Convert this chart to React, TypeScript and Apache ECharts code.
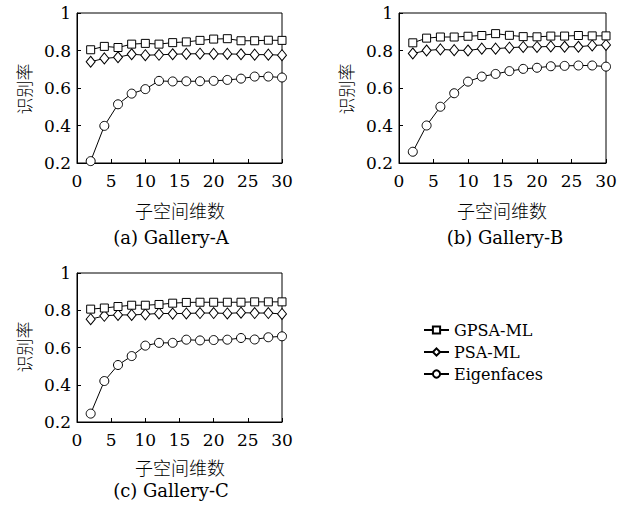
import React, { useEffect, useRef } from "react";
import * as echarts from "echarts";

const dims = [2, 4, 6, 8, 10, 12, 14, 16, 18, 20, 22, 24, 26, 28, 30];
const seriesNames = ["GPSA-ML", "PSA-ML", "Eigenfaces"];
const captions = ["(a) Gallery-A", "(b) Gallery-B", "(c) Gallery-C"];
const xAxisTitle = "子空间维数";
const yAxisTitle = "识别率";

const gpsaA = [0.804, 0.822, 0.816, 0.834, 0.838, 0.834, 0.842, 0.846, 0.854, 0.861, 0.863, 0.852, 0.852, 0.855, 0.854];
const psaA = [0.74, 0.758, 0.764, 0.78, 0.775, 0.777, 0.78, 0.782, 0.783, 0.782, 0.782, 0.78, 0.778, 0.778, 0.775];
const eigA = [0.21, 0.398, 0.513, 0.57, 0.594, 0.638, 0.635, 0.636, 0.636, 0.638, 0.643, 0.65, 0.661, 0.661, 0.656];

const gpsaB = [0.841, 0.866, 0.872, 0.872, 0.876, 0.88, 0.89, 0.881, 0.874, 0.873, 0.877, 0.877, 0.88, 0.878, 0.878];
const psaB = [0.784, 0.8, 0.806, 0.802, 0.8, 0.81, 0.81, 0.815, 0.819, 0.819, 0.822, 0.82, 0.82, 0.827, 0.83];
const eigB = [0.26, 0.4, 0.5, 0.572, 0.634, 0.661, 0.675, 0.69, 0.702, 0.708, 0.716, 0.718, 0.72, 0.72, 0.714];

const gpsaC = [0.806, 0.812, 0.82, 0.827, 0.827, 0.831, 0.838, 0.842, 0.843, 0.843, 0.843, 0.843, 0.845, 0.845, 0.845];
const psaC = [0.752, 0.77, 0.775, 0.775, 0.778, 0.783, 0.782, 0.783, 0.785, 0.785, 0.783, 0.787, 0.785, 0.785, 0.78];
const eigC = [0.245, 0.42, 0.506, 0.554, 0.61, 0.625, 0.625, 0.642, 0.638, 0.64, 0.642, 0.651, 0.643, 0.655, 0.66];

const panels = [
  [gpsaA, psaA, eigA],
  [gpsaB, psaB, eigB],
  [gpsaC, psaC, eigC],
];

const symbols = ["rect", "diamond", "circle"];
const symbolSizes: any[] = [8, [9, 11], 9];

const gridBoxes = [
  { left: 77, top: 13, width: 205, height: 150 },
  { left: 399, top: 13, width: 207, height: 150 },
  { left: 77, top: 273, width: 205, height: 149 },
];

const serif = "DejaVu Serif";
const cjk = "Noto Sans CJK SC";

export default function App() {
  const ref = useRef<HTMLDivElement>(null);
  useEffect(() => {
    if (!ref.current) return;
    const chart = echarts.init(ref.current, undefined, { renderer: "svg" });
    const grids = gridBoxes.map((g) => ({
      ...g,
      show: true,
      borderColor: "#000",
      borderWidth: 1,
      backgroundColor: "transparent",
    }));
    const xAxes = gridBoxes.map((_, i) => ({
      type: "value",
      gridIndex: i,
      min: 0,
      max: 30,
      interval: 5,
      axisLine: { show: true, lineStyle: { color: "#000", width: 1 } },
      axisTick: { show: true, inside: true, length: 4, lineStyle: { color: "#000" } },
      axisLabel: { color: "#000", fontFamily: serif, fontSize: 17, margin: 9 },
      splitLine: { show: false },
    }));
    const yAxes = gridBoxes.map((_, i) => ({
      type: "value",
      gridIndex: i,
      min: 0.2,
      max: 1,
      interval: 0.2,
      axisLine: { show: true, lineStyle: { color: "#000", width: 1 } },
      axisTick: { show: true, inside: true, length: 4, lineStyle: { color: "#000" } },
      axisLabel: {
        color: "#000",
        fontFamily: serif,
        fontSize: 17,
        margin: 6,
        formatter: (v: number) => String(Math.round(v * 10) / 10),
      },
      splitLine: { show: false },
    }));
    const series: any[] = [];
    panels.forEach((p, pi) => {
      p.forEach((vals, si) => {
        series.push({
          name: seriesNames[si],
          type: "line",
          xAxisIndex: pi,
          yAxisIndex: pi,
          data: dims.map((d, k) => [d, vals[k]]),
          symbol: symbols[si],
          symbolSize: symbolSizes[si],
          showSymbol: true,
          lineStyle: { color: "#000", width: 1 },
          itemStyle: { color: "#fff", borderColor: "#000", borderWidth: 1 },
          z: 3 - si,
        });
      });
    });

    const texts: any[] = [];
    const xNamePos = [
      [180, 210],
      [502, 210],
      [180, 467],
    ];
    const capPos = [
      [171, 237],
      [505, 237],
      [171, 490],
    ];
    const yNamePos = [
      [23, 89],
      [345, 89],
      [23, 347],
    ];
    for (let i = 0; i < 3; i++) {
      texts.push({
        type: "text",
        x: xNamePos[i][0],
        y: xNamePos[i][1],
        style: {
          text: xAxisTitle,
          fontFamily: cjk,
          fontWeight: 300,
          fontSize: 18,
          fill: "#000",
          align: "center",
          verticalAlign: "middle",
        },
      });
      texts.push({
        type: "text",
        x: capPos[i][0],
        y: capPos[i][1],
        style: {
          text: captions[i],
          fontFamily: serif,
          fontSize: 18,
          fill: "#000",
          align: "center",
          verticalAlign: "middle",
        },
      });
      texts.push({
        type: "text",
        x: yNamePos[i][0],
        y: yNamePos[i][1],
        rotation: Math.PI / 2,
        style: {
          text: yAxisTitle,
          fontFamily: cjk,
          fontWeight: 300,
          fontSize: 17,
          fill: "#000",
          align: "center",
          verticalAlign: "middle",
        },
      });
    }

    chart.setOption({
      animation: false,
      backgroundColor: "#fff",
      grid: grids,
      xAxis: xAxes,
      yAxis: yAxes,
      series,
      legend: {
        data: seriesNames,
        orient: "vertical",
        left: 418,
        top: 316,
        itemWidth: 25,
        itemHeight: 9,
        itemGap: 4,
        textStyle: { color: "#000", fontFamily: serif, fontSize: 16, lineHeight: 18 },
      },
      graphic: texts,
    });
    return () => chart.dispose();
  }, []);
  return (
    <div
      ref={ref}
      style={{ position: "fixed", left: 0, top: 0, width: 624, height: 508 }}
    />
  );
}
